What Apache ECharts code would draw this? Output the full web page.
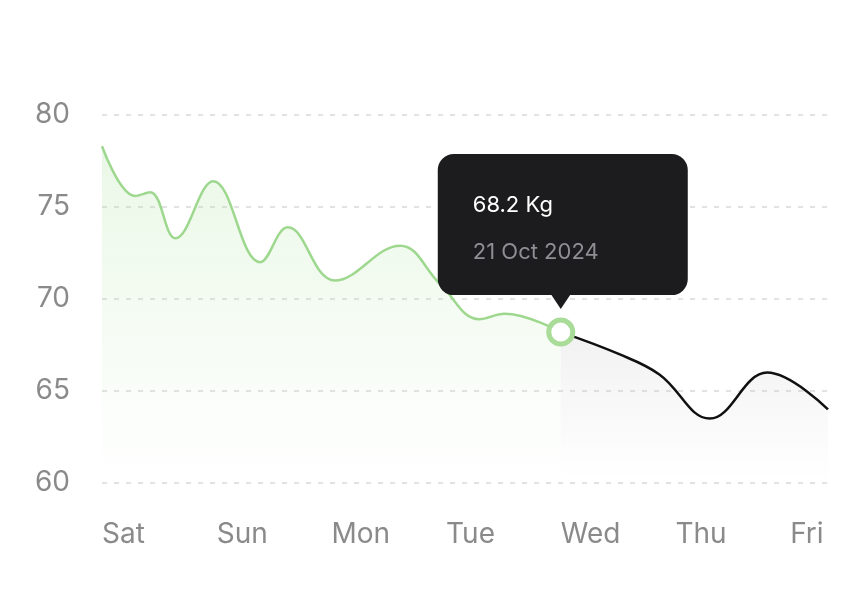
<!DOCTYPE html>
<html><head><meta charset="utf-8">
<script src="https://cdn.jsdelivr.net/npm/echarts@6/dist/echarts.min.js"></script>
<style>html,body{margin:0;background:#fff}#c{width:858px;height:606px}</style>
</head><body><div id="c"></div>
<script>
const dayLabels = ['Sat','Sun','Mon','Tue','Wed','Thu','Fri'];
const pastX = [0,0.29,0.42,0.64,0.97,1.38,1.62,2.03,2.6,2.95,3.29,3.51,4.0];
const pastY = [78.3,75.6,75.8,73.3,76.4,72.0,73.9,71.0,72.9,70.8,68.9,69.2,68.2];
const futX = [4.0,4.51,4.86,5.3,5.8,6.33];
const futY = [68.2,67.0,65.9,63.5,66.0,64.0];
const yTicks = [60,65,70,75,80];
const tipDate = '21 Oct 2024';

const chart = echarts.init(document.getElementById('c'));
const zip = (a,b)=>a.map((x,i)=>[x,b[i]]);
const lbl = {color:'#8a8a8a',fontSize:28,fontFamily:'Inter'};
chart.setOption({
  animation:false,
  grid:{left:102,right:30,top:115,bottom:123},
  xAxis:{type:'value',min:0,max:6.33,interval:1,
    axisLine:{show:false},axisTick:{show:false},splitLine:{show:false},
    axisLabel:Object.assign({},lbl,{align:'left',margin:38,showMaxLabel:false,
      formatter:v=>dayLabels[Math.round(v)]||''})},
  yAxis:{type:'value',min:yTicks[0],max:yTicks[yTicks.length-1],interval:5,
    axisLine:{show:false},axisTick:{show:false},
    axisLabel:Object.assign({},lbl,{margin:32}),
    splitLine:{lineStyle:{color:'#e2e2e2',type:[5,7],width:2}}},
  series:[
    {type:'line',smooth:0.4,data:zip(pastX,pastY),showSymbol:false,
     lineStyle:{color:'#9ed88f',width:2.5},
     areaStyle:{color:new echarts.graphic.LinearGradient(0,0,0,1,[{offset:0,color:'rgba(170,225,155,0.35)'},{offset:1,color:'rgba(170,225,155,0)'}])},
     markPoint:{symbol:'circle',symbolSize:24,silent:true,
       itemStyle:{color:'#fff',borderColor:'#a8dc98',borderWidth:5},label:{show:false},
       data:[{coord:[pastX[pastX.length-1],pastY[pastY.length-1]]}]},
     z:3},
    {type:'line',smooth:0.4,data:zip(futX,futY),showSymbol:false,
     lineStyle:{color:'#111',width:2.5},
     areaStyle:{color:new echarts.graphic.LinearGradient(0,0,0,1,[{offset:0,color:'rgba(200,200,200,0.35)'},{offset:1,color:'rgba(200,200,200,0)'}])},
     z:2}
  ]
});
const p = chart.convertToPixel({gridIndex:0},[pastX[pastX.length-1],pastY[pastY.length-1]]);
const bx = p[0]-123, by = p[1]-178;
chart.setOption({graphic:[
  {type:'rect',shape:{x:bx,y:by,width:250,height:141,r:16},style:{fill:'#1c1c1e'},z:100},
  {type:'polygon',shape:{points:[[p[0]-10,by+140],[p[0]+10,by+140],[p[0],by+155]]},style:{fill:'#1c1c1e'},z:100},
  {type:'text',x:bx+35,y:by+40,style:{text:pastY[pastY.length-1]+' Kg',fill:'#fff',font:'22px Inter'},z:101},
  {type:'text',x:bx+35,y:by+87,style:{text:tipDate,fill:'#8e8e93',font:'22px Inter'},z:101}
]});
</script></body></html>
